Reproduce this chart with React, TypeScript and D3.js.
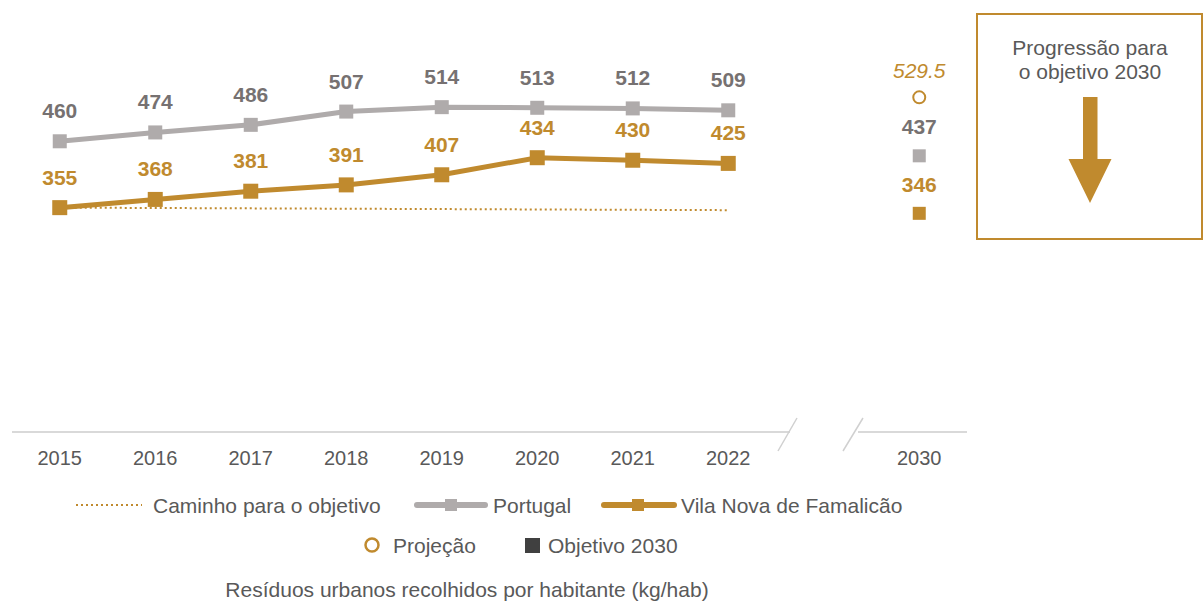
import React from "react";
import * as d3 from "d3";

const years = ["2015", "2016", "2017", "2018", "2019", "2020", "2021", "2022"];
const xDomain = [...years, "gap", "2030"];
const portugal = [460, 474, 486, 507, 514, 513, 512, 509];
const vilaNova = [355, 368, 381, 391, 407, 434, 430, 425];
const caminhoYears = ["2015", "2022"];
const caminho = [355, 351];
const projecao2030 = 529.5;
const objetivoPortugal2030 = 437;
const objetivoVNF2030 = 346;

const GOLD = "#C08A2E";
const GRAY = "#AFABAB";
const GRAY_TXT = "#767171";
const TXT = "#595959";
const FONT = "'Liberation Sans', Arial, sans-serif";

export default function App() {
  const W = 1203, H = 601;
  const x = d3.scaleBand<string>().domain(xDomain).range([12, 967]).paddingInner(0).paddingOuter(0);
  const cx = (k: string) => (x(k) as number) + x.bandwidth() / 2;
  const y = d3.scaleLinear().domain([0, 600]).range([432, 432 - 600 * 0.632]);
  const line = d3.line<[string, number]>().x((d) => cx(d[0])).y((d) => y(d[1]));

  const ptData = years.map((yr, i) => [yr, portugal[i]] as [string, number]);
  const vnData = years.map((yr, i) => [yr, vilaNova[i]] as [string, number]);
  const cmData = caminhoYears.map((yr, i) => [yr, caminho[i]] as [string, number]);
  const x30 = cx("2030");

  return (
    <svg width={W} height={H} style={{ position: "absolute", left: 0, top: 0 }} fontFamily={FONT}>
      <rect width={W} height={H} fill="#fff" />
      {/* axis with break */}
      <line x1={12} x2={790} y1={432} y2={432} stroke="#D9D9D9" strokeWidth={2} />
      <line x1={858} x2={967} y1={432} y2={432} stroke="#D9D9D9" strokeWidth={2} />
      <line x1={797} y1={418} x2={778} y2={451} stroke="#D0D0D0" strokeWidth={1.5} />
      <line x1={863} y1={418} x2={843} y2={451} stroke="#D0D0D0" strokeWidth={1.5} />
      {[...years, "2030"].map((yr) => (
        <text key={yr} x={cx(yr)} y={465} textAnchor="middle" fontSize={20} fill={TXT}>{yr}</text>
      ))}

      {/* caminho */}
      <path d={line(cmData) || ""} fill="none" stroke={GOLD} strokeWidth={2} strokeDasharray="2 3" />

      {/* Portugal */}
      <path d={line(ptData) || ""} fill="none" stroke={GRAY} strokeWidth={5} />
      {ptData.map((d) => (
        <g key={"p" + d[0]}>
          <rect x={cx(d[0]) - 7} y={y(d[1]) - 7} width={14} height={14} fill={GRAY} />
          <text x={cx(d[0])} y={y(d[1]) - 23} textAnchor="middle" fontSize={21} fontWeight="bold" fill={GRAY_TXT}>{d[1]}</text>
        </g>
      ))}

      {/* Vila Nova */}
      <path d={line(vnData) || ""} fill="none" stroke={GOLD} strokeWidth={5} />
      {vnData.map((d) => (
        <g key={"v" + d[0]}>
          <rect x={cx(d[0]) - 7.5} y={y(d[1]) - 7.5} width={15} height={15} fill={GOLD} />
          <text x={cx(d[0])} y={y(d[1]) - 23} textAnchor="middle" fontSize={21} fontWeight="bold" fill={GOLD}>{d[1]}</text>
        </g>
      ))}

      {/* 2030 */}
      <circle cx={x30} cy={y(projecao2030)} r={6} fill="none" stroke={GOLD} strokeWidth={2} />
      <text x={x30} y={y(projecao2030) - 19} textAnchor="middle" fontSize={21} fontStyle="italic" fill={GOLD}>{projecao2030}</text>
      <rect x={x30 - 6.5} y={y(objetivoPortugal2030) - 6.5} width={13} height={13} fill={GRAY} />
      <text x={x30} y={y(objetivoPortugal2030) - 22} textAnchor="middle" fontSize={21} fontWeight="bold" fill={GRAY_TXT}>{objetivoPortugal2030}</text>
      <rect x={x30 - 6.5} y={y(objetivoVNF2030) - 6.5} width={13} height={13} fill={GOLD} />
      <text x={x30} y={y(objetivoVNF2030) - 21} textAnchor="middle" fontSize={21} fontWeight="bold" fill={GOLD}>{objetivoVNF2030}</text>

      {/* box */}
      <rect x={977} y={14} width={225} height={225} fill="#fff" stroke={GOLD} strokeWidth={2} />
      <text x={1090} y={55} textAnchor="middle" fontSize={21} fill={TXT}>Progressão para</text>
      <text x={1090} y={79} textAnchor="middle" fontSize={21} fill={TXT}>o objetivo 2030</text>
      <path d="M1083,97 L1097.5,97 L1097.5,159 L1111.5,159 L1090,203 L1068.5,159 L1083,159 Z" fill={GOLD} />

      {/* legend row 1 */}
      <line x1={76} x2={142} y1={505} y2={505} stroke={GOLD} strokeWidth={2} strokeDasharray="2 3" />
      <text x={153} y={512.5} fontSize={21} fill={TXT}>Caminho para o objetivo</text>
      <line x1={417} x2={485} y1={505} y2={505} stroke={GRAY} strokeWidth={6} strokeLinecap="round" />
      <rect x={445} y={499} width={12} height={12} fill={GRAY} />
      <text x={493} y={512.5} fontSize={21} fill={TXT}>Portugal</text>
      <line x1={604} x2={674} y1={505} y2={505} stroke={GOLD} strokeWidth={6} strokeLinecap="round" />
      <rect x={632} y={499} width={12} height={12} fill={GOLD} />
      <text x={681} y={512.5} fontSize={21} fill={TXT}>Vila Nova de Famalicão</text>

      {/* legend row 2 */}
      <circle cx={372} cy={545} r={6.5} fill="none" stroke={GOLD} strokeWidth={2.5} />
      <text x={393} y={553} fontSize={21} fill={TXT}>Projeção</text>
      <rect x={525} y={538} width={15} height={15} fill="#404040" />
      <text x={548} y={553} fontSize={21} fill={TXT}>Objetivo 2030</text>

      <text x={467} y={597} textAnchor="middle" fontSize={21} fill={TXT}>Resíduos urbanos recolhidos por habitante (kg/hab)</text>
    </svg>
  );
}
